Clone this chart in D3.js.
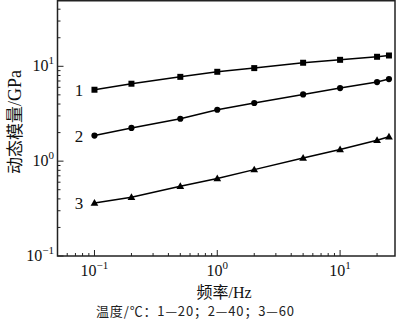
<!DOCTYPE html>
<html><head><meta charset="utf-8">
<script src="https://cdn.jsdelivr.net/npm/d3@7"></script>
<style>body{margin:0;background:#fff}svg{display:block}</style>
</head><body>
<svg id="c" width="400" height="323"></svg>
<script>
const freq = [0.1, 0.2, 0.5, 1, 2, 5, 10, 20, 25];
const series1 = [5.66, 6.55, 7.74, 8.75, 9.57, 10.9, 11.7, 12.6, 13.0];
const series2 = [1.86, 2.24, 2.80, 3.48, 4.10, 5.05, 5.89, 6.82, 7.33];
const series3 = [0.363, 0.416, 0.543, 0.655, 0.814, 1.08, 1.33, 1.66, 1.81];
const seriesNames = ["1", "2", "3"];
const markers = ["square", "circle", "triangle"];
const xTickExps = [-1, 0, 1];
const yTickExps = [-1, 0, 1];
const xTitle = ["频率", "/Hz"];
const yTitle = ["动态模量", "/GPa"];
const note = "温度/℃：1—20；2—40；3—60";

const svg = d3.select("#c");
const L = 57.5, R = 395, T = 0, B = 256;
const x = d3.scaleLog().domain([0.05, 28]).range([L, R]);
const y = d3.scaleLog().domain([0.1, 50]).range([B, T]);
const serif = "'Liberation Serif','Times New Roman',serif";
const cjk = "'Noto Sans CJK SC','Liberation Serif',serif";

const xt = [];
for (let e = -2; e <= 1; e++) for (let m = 1; m <= 9; m++) { const v = m * Math.pow(10, e); if (v >= 0.05 && v <= 28) xt.push(v); }
const yt = [];
for (let e = -1; e <= 1; e++) for (let m = 1; m <= 9; m++) { const v = m * Math.pow(10, e); if (v >= 0.1 && v <= 50) yt.push(v); }
const isMajor = v => Math.abs(Math.log10(v) - Math.round(Math.log10(v))) < 1e-9;

const g = svg.append("g");
g.selectAll(".xt").data(xt).join("line")
  .attr("x1", d => x(d)).attr("x2", d => x(d))
  .attr("y1", B).attr("y2", d => B - (isMajor(d) ? 6 : 3))
  .attr("stroke", "#222").attr("stroke-width", 1);
g.selectAll(".yt").data(yt).join("line")
  .attr("y1", d => y(d)).attr("y2", d => y(d))
  .attr("x1", L).attr("x2", d => L + (isMajor(d) ? 6 : 3))
  .attr("stroke", "#222").attr("stroke-width", 1);

svg.append("rect").attr("x", L).attr("y", T + 0.75).attr("width", R - L).attr("height", B - T - 0.75)
  .attr("fill", "none").attr("stroke", "#222").attr("stroke-width", 1.5);

xTickExps.forEach(e => {
  const t = svg.append("text").attr("x", x(Math.pow(10, e))).attr("y", 276)
    .attr("text-anchor", "middle").attr("font-family", serif).attr("font-size", 16).attr("fill", "#111");
  t.append("tspan").text("10");
  t.append("tspan").attr("dy", -7).attr("font-size", 11).text(e < 0 ? "\u2212" + (-e) : String(e));
});
yTickExps.forEach(e => {
  const t = svg.append("text").attr("x", 54).attr("y", y(Math.pow(10, e)) + 5)
    .attr("text-anchor", "end").attr("font-family", serif).attr("font-size", 16).attr("fill", "#111");
  t.append("tspan").text("10");
  t.append("tspan").attr("dy", -7).attr("font-size", 11).text(e < 0 ? "\u2212" + (-e) : String(e));
});

const all = [series1, series2, series3];
const line = d3.line().x((d, i) => x(freq[i])).y(d => y(d));
all.forEach((s, k) => {
  svg.append("path").datum(s).attr("d", line).attr("fill", "none").attr("stroke", "#000").attr("stroke-width", 1.5);
  const sym = markers[k] === "square" ? d3.symbolSquare : markers[k] === "circle" ? d3.symbolCircle : d3.symbolTriangle;
  const size = markers[k] === "square" ? 36 : markers[k] === "circle" ? 30 : 26;
  svg.selectAll(".m" + k).data(s).join("path")
    .attr("transform", (d, i) => `translate(${x(freq[i])},${y(d) + (markers[k] === "triangle" ? 0.5 : 0)})`)
    .attr("d", d3.symbol().type(sym).size(size)).attr("fill", "#000");
  svg.append("text").attr("x", 79).attr("y", y(s[0]) + 6).attr("text-anchor", "middle")
    .attr("font-family", serif).attr("font-size", 17).attr("fill", "#111").text(seriesNames[k]);
});

// x title
const xtT = svg.append("text").attr("x", 224).attr("y", 298).attr("text-anchor", "middle")
  .attr("font-size", 16).attr("fill", "#111");
xtT.append("tspan").attr("font-family", cjk).text(xTitle[0]);
xtT.append("tspan").attr("font-family", serif).text(xTitle[1]);

// y title
const ytT = svg.append("text").attr("transform", "translate(21,122) rotate(-90)").attr("text-anchor", "middle")
  .attr("font-size", 17).attr("fill", "#111");
ytT.append("tspan").attr("font-family", cjk).text(yTitle[0]);
ytT.append("tspan").attr("font-family", serif).attr("font-size", 18).text(yTitle[1]);

// footnote
svg.append("text").attr("x", 96).attr("y", 316).attr("font-family", cjk)
  .attr("font-size", 13).attr("fill", "#222")
  .attr("textLength", 198).attr("lengthAdjust", "spacing").text(note);
</script>
</body></html>
